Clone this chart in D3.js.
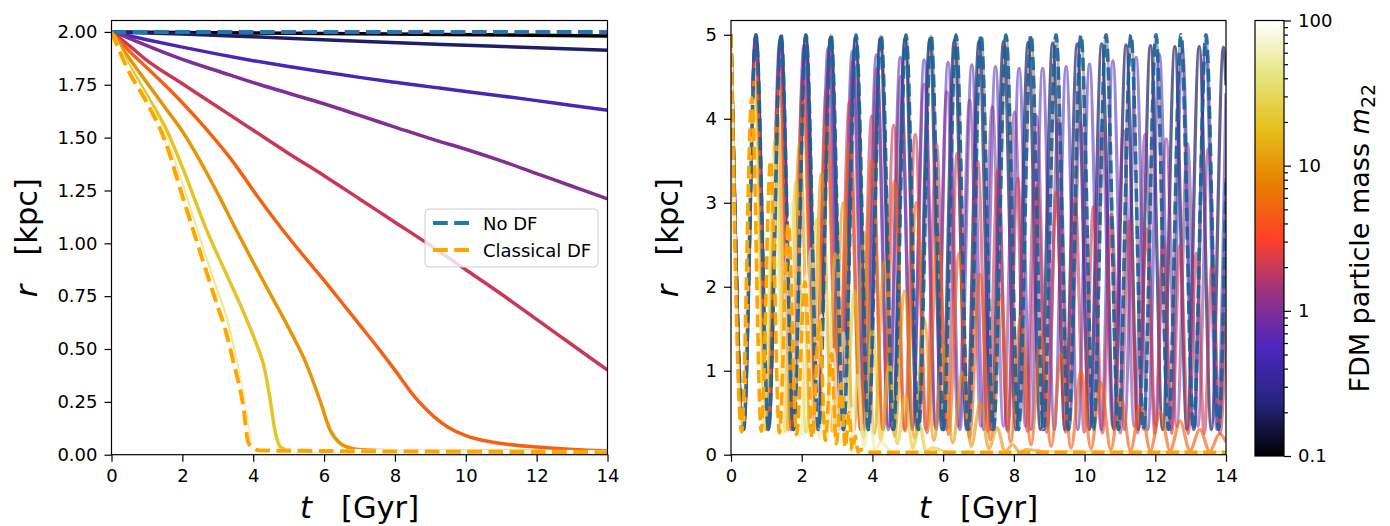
<!DOCTYPE html>
<html><head><meta charset="utf-8">
<script src="https://cdn.jsdelivr.net/npm/d3@7"></script>
<style>
body{margin:0;background:#fff;}
svg{display:block;font-family:"DejaVu Sans",sans-serif;}
</style></head><body>
<svg id="chart" width="1390" height="526"></svg>
<script>
// ---------------- DATA ----------------
const massValues = [0.1, 0.2, 0.5, 1, 2, 5, 10, 20, 50, 100];
const rightAlphas = [0.3, 0.7, 0.55, 0.55, 0.6, 0.65, 0.62, 0.6, 0.6, 0.6];
const xTicks = [0, 2, 4, 6, 8, 10, 12, 14];
const leftYTicks = [0, 0.25, 0.5, 0.75, 1.0, 1.25, 1.5, 1.75, 2.0];
const rightYTicks = [0, 1, 2, 3, 4, 5];
const cbarTicks = [0.1, 1, 10, 100];
const cbarTickLabels = ["0.1", "1", "10", "100"];
const cbarMinorTicks = [0.2,0.3,0.4,0.5,0.6,0.7,0.8,0.9,2,3,4,5,6,7,8,9,20,30,40,50,60,70,80,90];
const legendLabels = ["No DF", "Classical DF"];
const cmrStops = [0, 0.125, 0.25, 0.375, 0.5, 0.625, 0.75, 0.875, 1];
const cmrColors = ["#000000","#262680","#4d26bf","#993380","#ff4026","#e68000","#e6bf1a","#e6e680","#ffffff"];

// left panel: r(t) for circular orbit starting at 2 kpc
const leftNoDF = [[0,2.0],[14,2.0]];
const leftM01 = [[0,2.0],[7,1.991],[14,1.981]];
const leftM02 = [[0,2.0],[2,1.99],[4,1.977],[7,1.956],[10,1.937],[14,1.913]];
const leftM05 = [[0,2.0],[1,1.963],[2,1.928],[3,1.895],[4,1.864],[5,1.836],[6,1.81],[7,1.785],[8,1.762],[9,1.74],[10,1.718],[11,1.697],[12,1.675],[13,1.652],[14,1.63]];
const leftM1 = [[0,2.0],[0.5,1.97],[1,1.935],[2,1.87],[3,1.815],[4,1.76],[5,1.71],[6,1.66],[7,1.605],[8,1.55],[9,1.495],[10,1.445],[11,1.39],[12,1.33],[13,1.27],[14,1.21]];
const leftM2 = [[0,2.0],[0.5,1.935],[1,1.865],[2,1.755],[3,1.645],[4,1.535],[5,1.425],[6,1.32],[7,1.21],[8,1.10],[9,0.99],[10,0.875],[11,0.76],[12,0.64],[13,0.52],[14,0.40]];
const leftM5 = [[0,2.0],[0.5,1.91],[1,1.83],[1.5,1.75],[2,1.665],[2.7,1.535],[3.5,1.37],[4,1.25],[4.8,1.07],[5.5,0.925],[6,0.825],[6.5,0.72],[7,0.615],[7.5,0.51],[8,0.40],[8.6,0.265],[9.1,0.18],[9.5,0.13],[10,0.09],[10.5,0.067],[11,0.053],[12,0.036],[13,0.025],[14,0.018]];
const leftM10 = [[0,2.0],[0.5,1.875],[1,1.76],[1.5,1.645],[2,1.53],[2.5,1.39],[3,1.235],[3.5,1.07],[4,0.91],[4.5,0.755],[5,0.6],[5.5,0.43],[5.88,0.259],[6.17,0.117],[6.45,0.055],[6.8,0.03],[7.2,0.022],[8,0.018],[14,0.015]];
const leftM20 = [[0,2.0],[0.3,1.9],[0.66,1.795],[1,1.7],[1.56,1.535],[2,1.36],[2.69,1.06],[3.2,0.87],[3.82,0.637],[4.1,0.52],[4.3,0.42],[4.47,0.27],[4.61,0.117],[4.76,0.038],[5,0.02],[6,0.016],[14,0.014]];
const leftM50 = [[0,2.0],[0.5,1.83],[1,1.68],[1.5,1.52],[2,1.28],[2.5,1.02],[3,0.77],[3.25,0.65],[3.5,0.47],[3.74,0.26],[3.87,0.12],[3.95,0.05],[4.1,0.022],[5,0.016],[14,0.014]];
const leftM100 = [[0,2.0],[0.5,1.82],[1,1.675],[1.5,1.5],[2,1.24],[2.5,0.98],[3,0.72],[3.2,0.615],[3.44,0.46],[3.72,0.25],[3.88,0.07],[4,0.035],[4.2,0.02],[14,0.013]];
const leftClassical = [[0,2.0],[0.5,1.81],[1,1.665],[1.5,1.49],[2,1.225],[2.5,0.96],[3,0.70],[3.2,0.6],[3.44,0.44],[3.72,0.23],[3.86,0.06],[4,0.03],[4.19,0.02],[14,0.012]];

// right panel: r(t) extrema (apocentres / pericentres) of eccentric orbit starting at 5 kpc
const rightNoDF = [[0,5],[0.354,0.3],[0.707,5],[1.061,0.3],[1.414,5],[1.768,0.3],[2.121,5],[2.475,0.3],[2.828,5],[3.182,0.3],[3.535,5],[3.889,0.3],[4.242,5],[4.596,0.3],[4.949,5],[5.303,0.3],[5.656,5],[6.01,0.3],[6.363,5],[6.717,0.3],[7.07,5],[7.424,0.3],[7.777,5],[8.131,0.3],[8.484,5],[8.838,0.3],[9.191,5],[9.545,0.3],[9.898,5],[10.252,0.3],[10.605,5],[10.959,0.3],[11.312,5],[11.666,0.3],[12.019,5],[12.373,0.3],[12.726,5],[13.08,0.3],[13.433,5],[13.787,0.3],[14,3.3]];
const rightM01 = [[0,5],[0.354,0.3],[0.707,5],[1.061,0.3],[1.414,4.99],[1.768,0.3],[2.121,4.99],[2.475,0.3],[2.828,4.99],[3.182,0.3],[3.535,4.98],[3.889,0.3],[4.242,4.98],[4.596,0.3],[4.949,4.98],[5.303,0.3],[5.656,4.98],[6.01,0.3],[6.363,4.97],[6.717,0.3],[7.07,4.97],[7.424,0.3],[7.777,4.97],[8.131,0.3],[8.484,4.97],[8.838,0.3],[9.191,4.96],[9.545,0.3],[9.898,4.96],[10.252,0.3],[10.605,4.96],[10.959,0.3],[11.312,4.96],[11.666,0.3],[12.019,4.95],[12.373,0.3],[12.726,4.95],[13.08,0.3],[13.433,4.95],[13.787,0.3],[14,3.3]];
const rightM02 = [[0,5],[0.353,0.3],[0.705,4.99],[1.058,0.3],[1.41,4.98],[1.762,0.3],[2.113,4.98],[2.465,0.3],[2.816,4.97],[3.167,0.3],[3.518,4.96],[3.869,0.3],[4.219,4.95],[4.569,0.3],[4.919,4.95],[5.269,0.3],[5.618,4.94],[5.967,0.3],[6.316,4.93],[6.665,0.3],[7.013,4.92],[7.361,0.3],[7.709,4.92],[8.057,0.3],[8.404,4.91],[8.751,0.3],[9.098,4.9],[9.445,0.3],[9.791,4.89],[10.137,0.3],[10.483,4.89],[10.829,0.3],[11.174,4.88],[11.519,0.3],[11.864,4.87],[12.209,0.3],[12.553,4.86],[12.897,0.3],[13.241,4.86],[13.585,0.3],[13.928,4.85],[14,4.4]];
const rightM05 = [[0,5],[0.345,0.3],[0.69,4.96],[1.034,0.3],[1.378,4.92],[1.721,0.3],[2.064,4.88],[2.406,0.3],[2.748,4.84],[3.089,0.3],[3.43,4.8],[3.77,0.3],[4.11,4.76],[4.449,0.3],[4.788,4.73],[5.126,0.3],[5.464,4.7],[5.801,0.3],[6.138,4.67],[6.474,0.3],[6.81,4.64],[7.145,0.3],[7.48,4.62],[7.814,0.3],[8.148,4.6],[8.481,0.3],[8.814,4.6],[9.146,0.3],[9.478,4.62],[9.809,0.3],[10.14,4.65],[10.47,0.3],[10.8,4.69],[11.129,0.3],[11.458,4.73],[11.786,0.3],[12.114,4.77],[12.441,0.3],[12.768,4.81],[13.094,0.3],[13.42,4.85],[13.745,0.3],[14,4.3]];
const rightM1 = [[0,5],[0.35,0.34],[0.7,4.97],[1.05,0.34],[1.4,4.93],[1.745,0.34],[2.09,4.87],[2.435,0.34],[2.78,4.79],[3.12,0.34],[3.46,4.7],[3.795,0.34],[4.13,4.6],[4.465,0.34],[4.8,4.5],[5.13,0.34],[5.46,4.41],[5.785,0.34],[6.11,4.32],[6.43,0.34],[6.75,4.22],[7.07,0.34],[7.39,4.14],[7.705,0.34],[8.02,4.08],[8.33,0.34],[8.64,4.03],[8.95,0.34],[9.26,3.99],[9.57,0.34],[9.88,3.95],[10.185,0.34],[10.49,3.91],[10.795,0.34],[11.1,3.86],[11.405,0.34],[11.71,3.81],[12.01,0.34],[12.31,3.76],[12.61,0.34],[12.91,3.7],[13.205,0.34],[13.5,3.64],[13.8,0.34],[14,2.4]];
const rightM2 = [[0,5],[0.345,0.3],[0.69,4.85],[1.03,0.3],[1.37,4.68],[1.705,0.3],[2.04,4.5],[2.37,0.3],[2.7,4.35],[3.025,0.3],[3.35,4.2],[3.665,0.3],[3.98,4.03],[4.29,0.3],[4.6,3.92],[4.905,0.3],[5.21,3.81],[5.51,0.3],[5.81,3.7],[6.105,0.3],[6.4,3.59],[6.69,0.3],[6.98,3.49],[7.265,0.28],[7.55,3.39],[7.83,0.28],[8.11,3.29],[8.385,0.28],[8.66,3.21],[8.93,0.27],[9.2,3.12],[9.465,0.27],[9.73,3.04],[9.99,0.27],[10.25,2.95],[10.505,0.26],[10.76,2.86],[11.01,0.26],[11.26,2.78],[11.505,0.26],[11.75,2.69],[11.99,0.25],[12.23,2.6],[12.465,0.25],[12.7,2.5],[12.93,0.25],[13.16,2.4],[13.385,0.25],[13.61,2.3],[13.83,0.25],[14,1.6]];
const rightM5 = [[0,5],[0.345,0.3],[0.69,4.65],[1.03,0.3],[1.37,4.4],[1.705,0.3],[2.04,4.2],[2.37,0.3],[2.7,3.95],[3.025,0.3],[3.35,3.7],[3.67,0.3],[3.99,3.5],[4.305,0.3],[4.62,3.25],[4.93,0.28],[5.24,3.0],[5.545,0.26],[5.85,2.65],[6.15,0.24],[6.45,2.4],[6.745,0.2],[7.04,2.15],[7.33,0.18],[7.62,1.9],[7.91,0.15],[8.2,1.65],[8.485,0.12],[8.77,1.42],[9.055,0.1],[9.34,1.2],[9.62,0.08],[9.9,1.0],[10.18,0.07],[10.46,0.86],[10.74,0.06],[11.02,0.72],[11.3,0.05],[11.58,0.6],[11.86,0.05],[12.14,0.5],[12.42,0.05],[12.7,0.4],[12.98,0.05],[13.26,0.3],[13.54,0.04],[13.82,0.25],[14,0.15]];
const rightM10 = [[0,5],[0.33,0.3],[0.66,4.45],[0.985,0.3],[1.31,4.05],[1.625,0.3],[1.94,3.7],[2.25,0.28],[2.56,3.35],[2.865,0.28],[3.17,3.0],[3.465,0.26],[3.76,2.65],[4.05,0.25],[4.34,2.3],[4.625,0.22],[4.91,1.95],[5.19,0.2],[5.47,1.6],[5.74,0.17],[6.01,1.3],[6.275,0.14],[6.54,0.98],[6.795,0.1],[7.05,0.62],[7.29,0.07],[7.53,0.32],[7.75,0.04],[7.97,0.12],[8.16,0.03],[8.35,0.06],[9,0.03],[14,0.025]];
const rightM20 = [[0,5],[0.32,0.3],[0.64,4.3],[0.945,0.3],[1.25,3.75],[1.545,0.28],[1.84,3.25],[2.125,0.27],[2.41,2.8],[2.685,0.25],[2.96,2.4],[3.225,0.23],[3.49,1.95],[3.745,0.2],[4.0,1.5],[4.24,0.17],[4.48,1.1],[4.705,0.13],[4.93,0.7],[5.135,0.08],[5.34,0.35],[5.51,0.04],[5.68,0.08],[6.2,0.025],[14,0.02]];
const rightM50 = [[0,5],[0.31,0.28],[0.62,4.35],[0.91,0.28],[1.2,3.6],[1.475,0.26],[1.75,3.0],[2.005,0.24],[2.26,2.45],[2.5,0.2],[2.74,1.95],[2.96,0.17],[3.18,1.45],[3.38,0.13],[3.58,0.95],[3.755,0.08],[3.93,0.5],[4.075,0.04],[4.22,0.15],[4.6,0.02],[14,0.015]];
const rightM100 = [[0,5],[0.3,0.27],[0.6,4.3],[0.87,0.28],[1.14,3.56],[1.395,0.26],[1.65,2.82],[1.89,0.24],[2.13,2.13],[2.34,0.2],[2.55,1.66],[2.725,0.17],[2.9,1.25],[3.045,0.13],[3.19,0.9],[3.305,0.09],[3.42,0.55],[3.515,0.05],[3.61,0.25],[3.685,0.03],[3.76,0.07],[4.0,0.025],[14,0.02]];
const rightClassical = [[0,5],[0.3,0.27],[0.59,4.25],[0.855,0.28],[1.12,3.5],[1.37,0.26],[1.62,2.75],[1.855,0.24],[2.09,2.06],[2.295,0.2],[2.5,1.6],[2.67,0.17],[2.84,1.2],[2.98,0.13],[3.12,0.85],[3.23,0.09],[3.34,0.5],[3.43,0.05],[3.52,0.22],[3.59,0.03],[3.66,0.06],[3.9,0.03],[14,0.03]];

const leftMassSeries = [leftM01, leftM02, leftM05, leftM1, leftM2, leftM5, leftM10, leftM20, leftM50, leftM100];
const rightMassSeries = [rightM01, rightM02, rightM05, rightM1, rightM2, rightM5, rightM10, rightM20, rightM50, rightM100];

// ---------------- DRAW ----------------
const svg = d3.select("#chart");
const FONT = "DejaVu Sans";
const cmap = d3.scaleLinear().domain(cmrStops).range(cmrColors).interpolate(d3.interpolateRgb);
const massNorm = d3.scaleLog().domain([0.1, 100]).range([0, 1]);
const colorOf = m => cmap(massNorm(m));

const axTop = 20.5, axBottom = 454.7;
const xL = d3.scaleLinear().domain([0, 14]).range([111.5, 607.5]);
const yL = d3.scaleLinear().domain([0, 2.054]).range([axBottom, axTop]);
const xR = d3.scaleLinear().domain([0, 14]).range([731, 1226]);
const yR = d3.scaleLinear().domain([0, 5.17]).range([axBottom, axTop]);

const defs = svg.append("defs");
function clip(id, x, y) {
  defs.append("clipPath").attr("id", id).append("rect")
    .attr("x", x.range()[0]).attr("y", y.range()[1])
    .attr("width", x.range()[1] - x.range()[0]).attr("height", y.range()[0] - y.range()[1]);
}
clip("clipL", xL, yL); clip("clipR", xR, yR);

function lineGen(x, y) {
  return d3.line().x(d => x(d[0])).y(d => y(d[1])).curve(d3.curveMonotoneX);
}

// left panel
const gL = svg.append("g").attr("clip-path", "url(#clipL)");
const lnL = lineGen(xL, yL);
leftMassSeries.forEach((s, i) => {
  gL.append("path").attr("d", lnL(s)).attr("fill", "none")
    .attr("stroke", colorOf(massValues[i])).attr("stroke-width", i === 8 ? 2.5 : 3.5)
    .attr("stroke-linejoin", "round");
});
gL.append("path").attr("d", lnL(leftNoDF)).attr("fill", "none")
  .attr("stroke", "#1f77b4").attr("stroke-width", 4).attr("stroke-dasharray", "14.8,6.4");
gL.append("path").attr("d", lnL(leftClassical)).attr("fill", "none")
  .attr("stroke", "#ffa500").attr("stroke-width", 4).attr("stroke-dasharray", "14.8,6.4");

// right panel
const gR = svg.append("g").attr("clip-path", "url(#clipR)");
const lnR = lineGen(xR, yR);
rightMassSeries.forEach((s, i) => {
  gR.append("path").attr("d", lnR(s)).attr("fill", "none")
    .attr("stroke", colorOf(massValues[i])).attr("stroke-width", 3.3)
    .attr("stroke-opacity", rightAlphas[i])
    .attr("stroke-linejoin", "round");
});
gR.append("path").attr("d", lnR(rightNoDF)).attr("fill", "none")
  .attr("stroke", "#1b6399").attr("stroke-opacity", 0.9).attr("stroke-width", 3.6).attr("stroke-dasharray", "13,5.6");
gR.append("path").attr("d", lnR(rightClassical)).attr("fill", "none")
  .attr("stroke", "#ffa500").attr("stroke-width", 3.6).attr("stroke-dasharray", "13,5.6");

// axes
function styleAxis(g) {
  g.select(".domain").remove();
  g.selectAll(".tick line").attr("stroke", "#000").attr("stroke-width", 1.2);
  g.selectAll("text").attr("font-family", FONT).attr("font-size", 18).attr("fill", "#000");
}
function axes(x, y, yT, yFmt) {
  svg.append("g").attr("transform", `translate(0,${axBottom})`)
    .call(d3.axisBottom(x).tickValues(xTicks).tickFormat(d3.format("d")).tickSize(7).tickPadding(8))
    .call(styleAxis);
  svg.append("g").attr("transform", `translate(${x.range()[0]},0)`)
    .call(d3.axisLeft(y).tickValues(yT).tickFormat(yFmt).tickSize(7).tickPadding(7))
    .call(styleAxis);
  svg.append("rect").attr("x", x.range()[0]).attr("y", axTop)
    .attr("width", x.range()[1] - x.range()[0]).attr("height", axBottom - axTop)
    .attr("fill", "none").attr("stroke", "#000").attr("stroke-width", 1.2);
}
axes(xL, yL, leftYTicks, d3.format(".2f"));
axes(xR, yR, rightYTicks, d3.format("d"));

// axis labels
function xLabel(cx) {
  const t = svg.append("text").attr("x", cx).attr("y", 518).attr("text-anchor", "middle")
    .attr("font-family", FONT).attr("font-size", 30.5).style("white-space", "pre");
  t.append("tspan").attr("font-style", "italic").text("t");
  t.append("tspan").text("   [Gyr]");
}
function yLabel(bx) {
  const t = svg.append("text").attr("transform", `translate(${bx},${(axTop + axBottom) / 2}) rotate(-90)`)
    .attr("text-anchor", "middle").attr("font-family", FONT).attr("font-size", 30.5).style("white-space", "pre");
  t.append("tspan").attr("font-style", "italic").text("r");
  t.append("tspan").text("   [kpc]");
}
xLabel((xL.range()[0] + xL.range()[1]) / 2);
xLabel((xR.range()[0] + xR.range()[1]) / 2);
yLabel(37);
yLabel(678);

// legend
const lg = svg.append("g");
lg.append("rect").attr("x", 425).attr("y", 209).attr("width", 173).attr("height", 58).attr("rx", 4)
  .attr("fill", "#fff").attr("fill-opacity", 0.8).attr("stroke", "#cccccc").attr("stroke-width", 1);
const legColors = ["#1f77b4", "#ffa500"];
legendLabels.forEach((lab, i) => {
  const yy = 223 + i * 27;
  lg.append("line").attr("x1", 433).attr("x2", 469).attr("y1", yy).attr("y2", yy)
    .attr("stroke", legColors[i]).attr("stroke-width", 4).attr("stroke-dasharray", "14.8,6.4");
  lg.append("text").attr("x", 483).attr("y", yy + 6.5).attr("font-family", FONT).attr("font-size", 18).text(lab);
});

// colorbar
const cbX = 1255, cbW = 29, cbTop = 20.5, cbBottom = 456;
const grad = defs.append("linearGradient").attr("id", "cmr").attr("x1", 0).attr("y1", 1).attr("x2", 0).attr("y2", 0);
cmrStops.forEach((s, i) => grad.append("stop").attr("offset", s).attr("stop-color", cmrColors[i]));
svg.append("rect").attr("x", cbX).attr("y", cbTop).attr("width", cbW).attr("height", cbBottom - cbTop)
  .attr("fill", "url(#cmr)").attr("stroke", "#000").attr("stroke-width", 1.2);
const cbScale = d3.scaleLog().domain([0.1, 100]).range([cbBottom, cbTop]);
svg.append("g").attr("transform", `translate(${cbX + cbW},0)`)
  .call(d3.axisRight(cbScale).tickValues(cbarTicks).tickFormat((d, i) => cbarTickLabels[i]).tickSize(7).tickPadding(7))
  .call(styleAxis);
svg.append("g").attr("transform", `translate(${cbX + cbW},0)`)
  .call(d3.axisRight(cbScale).tickValues(cbarMinorTicks).tickFormat("").tickSize(4))
  .call(styleAxis);
const cl = svg.append("text").attr("transform", `translate(1369,${(cbTop + cbBottom) / 2}) rotate(-90)`)
  .attr("text-anchor", "middle").attr("font-family", FONT).attr("font-size", 27).style("white-space", "pre");
cl.append("tspan").text("FDM particle mass ");
cl.append("tspan").attr("font-style", "italic").text("m");
cl.append("tspan").attr("font-size", 19).attr("dy", 6).text("22");
</script></body></html>
